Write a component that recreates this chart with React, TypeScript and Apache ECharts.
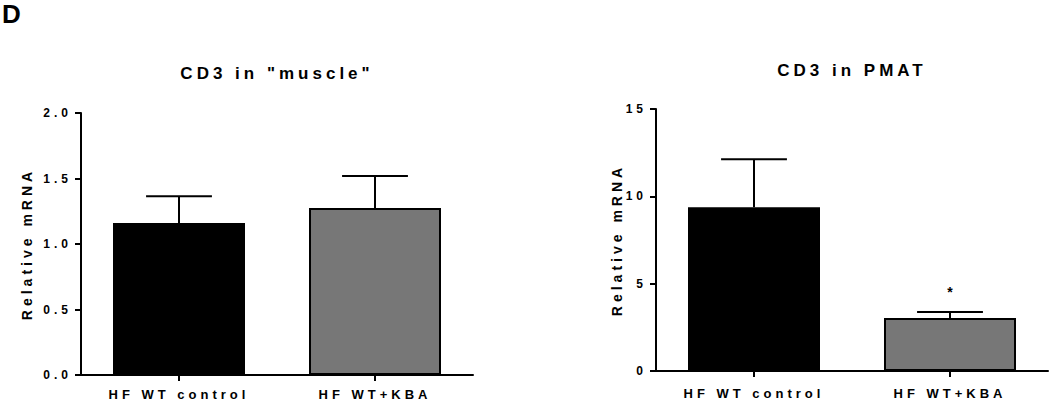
import React, { useEffect, useRef } from "react";
import * as echarts from "echarts";

// ---- data ----
const categories = ["HF WT control", "HF WT+KBA"];
const muscleMean = [1.16, 1.275];
const muscleErr = [0.205, 0.245];
const muscleSig = ["", ""];
const pmatMean = [9.37, 3.03];
const pmatErr = [2.75, 0.35];
const pmatSig = ["", "*"];
const barColors = ["#000000", "#777777"];
const titles = ['CD3 in "muscle"', "CD3 in PMAT"];
const panelLabel = "D";
const yName = "Relative mRNA";

const FONT = '"Liberation Sans", Arial, Helvetica, sans-serif';

function makeErrRender(sig: string[]) {
  return (params: any, api: any) => {
    const i = api.value(0);
    const mean = api.value(1);
    const err = api.value(2);
    const base = api.coord([i, mean]);
    const top = api.coord([i, mean + err]);
    const half = api.size([1, 0])[0] * 0.168;
    const children: any[] = [
      {
        type: "line",
        shape: { x1: base[0], y1: base[1], x2: top[0], y2: top[1] },
        style: { stroke: "#000", lineWidth: 2 },
      },
      {
        type: "line",
        shape: { x1: top[0] - half, y1: top[1], x2: top[0] + half, y2: top[1] },
        style: { stroke: "#000", lineWidth: 2 },
      },
    ];
    const s = sig[params.dataIndex];
    if (s) {
      children.push({
        type: "text",
        style: {
          text: s,
          x: top[0] + 2,
          y: top[1] - 20,
          align: "center",
          verticalAlign: "middle",
          font: `bold 14px ${FONT}`,
          fill: "#000",
        },
      });
    }
    return { type: "group", children };
  };
}

export default function App() {
  const ref = useRef<HTMLDivElement>(null);
  useEffect(() => {
    if (!ref.current) return;
    const chart = echarts.init(ref.current, undefined, { renderer: "svg" });
    const axisCommon = {
      axisLine: { show: true, lineStyle: { color: "#000", width: 2 } },
      axisTick: { show: true, length: 6, lineStyle: { color: "#000", width: 2 } },
      splitLine: { show: false },
    };
    const xAxisFor = (gi: number, margin: number) => ({
      type: "category",
      gridIndex: gi,
      data: categories,
      boundaryGap: true,
      ...axisCommon,
      axisTick: { show: true, alignWithLabel: true, length: 6, lineStyle: { color: "#000", width: 2 } },
      axisLabel: { color: "#000", fontFamily: FONT, fontWeight: "bold", fontSize: 13, margin },
    });
    const option: any = {
      animation: false,
      backgroundColor: "#fff",
      title: [
        {
          text: panelLabel,
          left: 2,
          top: 1,
          padding: 0,
          textStyle: { fontFamily: FONT, fontWeight: "bold", fontSize: 26, color: "#000" },
        },
        {
          text: titles[0],
          left: 277,
          top: 65,
          padding: 0,
          textAlign: "center",
          textStyle: { fontFamily: FONT, fontWeight: "bold", fontSize: 17, color: "#000" },
        },
        {
          text: titles[1],
          left: 852,
          top: 62,
          padding: 0,
          textAlign: "center",
          textStyle: { fontFamily: FONT, fontWeight: "bold", fontSize: 17, color: "#000" },
        },
      ],
      grid: [
        { left: 81, top: 113, width: 392, height: 262 },
        { left: 656, top: 109, width: 392, height: 262 },
      ],
      xAxis: [xAxisFor(0, 13), xAxisFor(1, 16)],
      yAxis: [
        {
          type: "value",
          gridIndex: 0,
          min: 0,
          max: 2,
          interval: 0.5,
          ...axisCommon,
          name: yName,
          nameLocation: "middle",
          nameGap: 47,
          nameTextStyle: { color: "#000", fontFamily: FONT, fontWeight: "bold", fontSize: 14 },
          axisLabel: {
            color: "#000",
            fontFamily: FONT,
            fontWeight: "bold",
            fontSize: 12,
            margin: 9,
            formatter: (v: number) => v.toFixed(1),
          },
        },
        {
          type: "value",
          gridIndex: 1,
          min: 0,
          max: 15,
          interval: 5,
          ...axisCommon,
          name: yName,
          nameLocation: "middle",
          nameGap: 32,
          nameTextStyle: { color: "#000", fontFamily: FONT, fontWeight: "bold", fontSize: 14 },
          axisLabel: {
            color: "#000",
            fontFamily: FONT,
            fontWeight: "bold",
            fontSize: 12,
            margin: 9,
          },
        },
      ],
      series: [
        {
          type: "bar",
          xAxisIndex: 0,
          yAxisIndex: 0,
          barWidth: 132,
          data: muscleMean.map((v, i) => ({ value: v, itemStyle: { color: barColors[i] } })),
          itemStyle: { borderColor: "#000", borderWidth: 2 },
        },
        {
          type: "custom",
          xAxisIndex: 0,
          yAxisIndex: 0,
          renderItem: makeErrRender(muscleSig),
          data: muscleMean.map((v, i) => [i, v, muscleErr[i]]),
          z: 3,
        },
        {
          type: "bar",
          xAxisIndex: 1,
          yAxisIndex: 1,
          barWidth: 132,
          data: pmatMean.map((v, i) => ({ value: v, itemStyle: { color: barColors[i] } })),
          itemStyle: { borderColor: "#000", borderWidth: 2 },
        },
        {
          type: "custom",
          xAxisIndex: 1,
          yAxisIndex: 1,
          renderItem: makeErrRender(pmatSig),
          data: pmatMean.map((v, i) => [i, v, pmatErr[i]]),
          z: 3,
        },
      ],
    };
    chart.setOption(option);
    return () => chart.dispose();
  }, []);
  return (
    <>
      <style>{`#chartbox text { letter-spacing: 4px; }`}</style>
      <div
        id="chartbox"
        ref={ref}
        style={{ position: "fixed", left: 0, top: 0, width: 1050, height: 403, background: "#fff" }}
      />
    </>
  );
}
